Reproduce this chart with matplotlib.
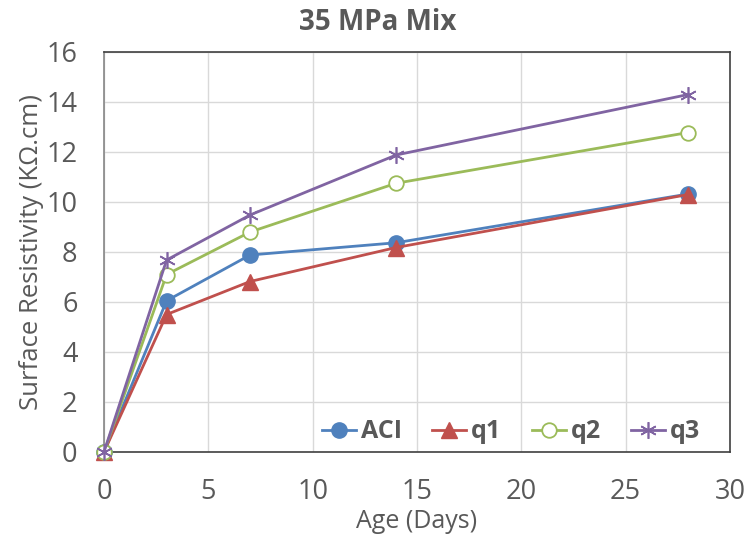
import matplotlib
matplotlib.use("Agg")
import matplotlib.pyplot as plt

days = [0, 3, 7, 14, 28]
aci = [0, 6.05, 7.88, 8.37, 10.32]
q1 = [0, 5.5, 6.82, 8.18, 10.3]
q2 = [0, 7.1, 8.8, 10.75, 12.78]
q3 = [0, 7.68, 9.48, 11.88, 14.3]
series_names = ["ACI", "q1", "q2", "q3"]
x_ticks = [0, 5, 10, 15, 20, 25, 30]
y_ticks = [0, 2, 4, 6, 8, 10, 12, 14, 16]

plt.rcParams['font.family'] = ['Open Sans', 'DejaVu Sans']
txt = '#595959'

fig = plt.figure(figsize=(7.49, 5.37), dpi=100)
ax = fig.add_axes([104/749, 1-452/537, (730-104)/749, 400/537])

styles = [
    dict(color='#4F81BD', marker='o', markersize=11, markerfacecolor='#4F81BD', markeredgecolor='#4F81BD'),
    dict(color='#C0504D', marker='^', markersize=11, markerfacecolor='#C0504D', markeredgecolor='#C0504D'),
    dict(color='#9BBB59', marker='o', markersize=10.5, markerfacecolor='white', markeredgecolor='#9BBB59', markeredgewidth=1.3),
    dict(color='#8064A2', marker=(6, 2, 0), markersize=12, markeredgecolor='#8064A2', markeredgewidth=1.2),
]
for name, vals, st in zip(series_names, [aci, q1, q2, q3], styles):
    ax.plot(days, vals, linewidth=2, label=name, clip_on=False, zorder=3, **st)

ax.set_xlim(0, 30)
ax.set_ylim(0, 16)
ax.set_xticks(x_ticks)
ax.set_yticks(y_ticks)
ax.grid(True, color='#D9D9D9', linewidth=1)
ax.set_axisbelow(True)
for s in ['top', 'right', 'bottom']:
    ax.spines[s].set_color('#404040')
    ax.spines[s].set_linewidth(1.2)
ax.spines['left'].set_color('#868686')
ax.spines['left'].set_linewidth(1.2)
ax.tick_params(axis='both', length=0, labelsize=19.5, labelcolor=txt)
ax.tick_params(axis='x', pad=18.5)
ax.tick_params(axis='y', pad=19)

fig.text(417/749, 1-521/537, "Age (Days)", fontsize=18, color=txt, ha='center', va='center')
ax.set_ylabel("Surface Resistivity (KΩ.cm)", fontsize=18.5, color=txt, labelpad=2)
fig.text(378/749, 1-22/537, "35 MPa Mix", fontsize=20, fontweight='bold', color=txt,
         ha='center', va='center')

leg = ax.legend(ncol=4, loc='center right', frameon=False,
                bbox_to_anchor=((700-104)/626, (452-432)/400),
                prop={'weight': 'bold', 'size': 18}, handlelength=1.36, columnspacing=1.2,
                handletextpad=0.2, borderaxespad=0, borderpad=0)
for t in leg.get_texts():
    t.set_color(txt)

fig.savefig("out.png", dpi=100)
